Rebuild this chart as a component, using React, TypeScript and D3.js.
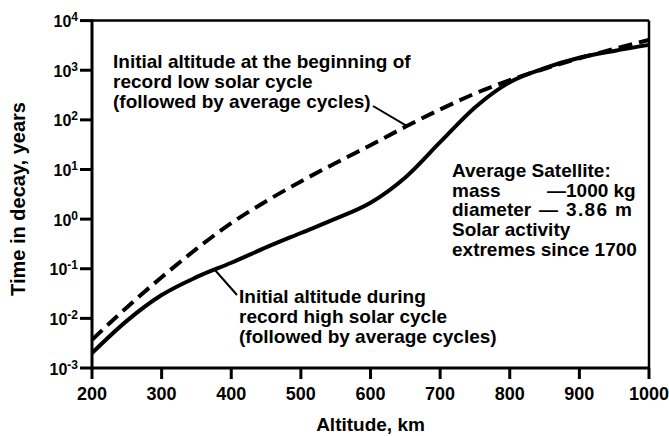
import React from "react";
import * as d3 from "d3";

const altitudes = [200, 250, 300, 350, 400, 450, 500, 550, 600, 650, 700, 750, 800, 850, 900, 950, 1000];
const lowSolarYears = [0.0037, 0.0166, 0.0676, 0.251, 0.832, 2.29, 5.75, 13.5, 30.9, 72.4, 162, 339, 631, 1070, 1740, 2690, 4070];
const highSolarYears = [0.002, 0.0089, 0.0295, 0.0676, 0.132, 0.269, 0.525, 1.02, 2.14, 6.92, 35.5, 178, 575, 1100, 1780, 2450, 3240];
const xTicks = [200, 300, 400, 500, 600, 700, 800, 900, 1000];
const yTickExponents = [4, 3, 2, 1, 0, -1, -2, -3];

const lowLabel = ["Initial altitude at the beginning of", "record low solar cycle", "(followed by average cycles)"];
const highLabel = ["Initial altitude during", "record high solar cycle", "(followed by average cycles)"];
const infoLines = ["Average Satellite:", "mass", "diameter", "Solar activity", "extremes since 1700"];
const infoValues = ["\u20141000 kg", "\u2014 3.86 m"];

const W = 669;
const H = 436;
const M = { left: 92, right: 649, top: 20.6, bottom: 368 };
const FONT = "'Liberation Sans', Arial, Helvetica, sans-serif";

export default function App() {
  const x = d3.scaleLinear().domain([200, 1000]).range([M.left, M.right]);
  const y = d3.scaleLog().domain([1e-3, 1e4]).range([M.bottom, M.top]);

  const line = d3
    .line<number>()
    .x((_, i) => x(altitudes[i]))
    .y((d) => y(d))
    .curve(d3.curveMonotoneX);

  const lowPath = line(lowSolarYears) || "";
  const highPath = line(highSolarYears) || "";

  return (
    <svg
      width={W}
      height={H}
      style={{ position: "absolute", left: 0, top: 0, background: "#fff" }}
      fontFamily={FONT}
      fontWeight="bold"
    >
      <rect x={0} y={0} width={W} height={H} fill="#fff" />
      {/* frame */}
      <line x1={M.left} x2={M.right} y1={M.top} y2={M.top} stroke="#000" strokeWidth={2.5} />
      <line x1={M.right} x2={M.right} y1={M.top} y2={M.bottom} stroke="#000" strokeWidth={2.5} />
      <line x1={M.left} x2={M.right + 1} y1={M.bottom} y2={M.bottom} stroke="#000" strokeWidth={3} />
      <line x1={M.left} x2={M.left} y1={M.top - 1} y2={M.bottom + 1.5} stroke="#000" strokeWidth={3} />

      {/* x ticks */}
      {xTicks.map((t) => (
        <g key={"x" + t}>
          <line x1={x(t)} x2={x(t)} y1={M.bottom} y2={M.bottom + 11} stroke="#000" strokeWidth={3} />
          <text x={x(t)} y={400} textAnchor="middle" fontSize={18}>
            {t}
          </text>
        </g>
      ))}

      {/* y ticks */}
      {yTickExponents.map((e) => {
        const yy = y(Math.pow(10, e));
        return (
          <g key={"y" + e}>
            <line x1={M.left - 12} x2={M.left} y1={yy} y2={yy} stroke="#000" strokeWidth={3} />
            <text x={78} y={yy + 6.5} textAnchor="end" fontSize={16}>
              <tspan>10</tspan>
              <tspan fontSize={12} dy={-6}>
                {e}
              </tspan>
            </text>
          </g>
        );
      })}

      {/* curves */}
      <path d={highPath} fill="none" stroke="#000" strokeWidth={4} strokeLinejoin="round" />
      <path d={lowPath} fill="none" stroke="#000" strokeWidth={4} strokeDasharray="14 7" />

      {/* leader lines */}
      <line x1={373} y1={106} x2={x(652)} y2={y(76)} stroke="#000" strokeWidth={2} />
      <line x1={x(375)} y1={y(0.1)} x2={237} y2={295} stroke="#000" strokeWidth={2} />

      {/* annotations */}
      {lowLabel.map((s, i) => (
        <text key={"l" + i} x={113} y={68 + i * 20} fontSize={19}>
          {s}
        </text>
      ))}
      {highLabel.map((s, i) => (
        <text key={"h" + i} x={239} y={303 + i * 20} fontSize={19}>
          {s}
        </text>
      ))}
      {infoLines.map((s, i) => (
        <text key={"i" + i} x={452} y={177 + i * 19.7} fontSize={19}>
          {s}
        </text>
      ))}
      <text x={547} y={196.7} fontSize={19}>
        {infoValues[0]}
      </text>
      <text x={539} y={216.4} fontSize={19} textLength={93} lengthAdjust="spacing">
        {infoValues[1]}
      </text>

      {/* axis titles */}
      <text x={(M.left + M.right) / 2} y={431} textAnchor="middle" fontSize={19}>
        Altitude, km
      </text>
      <text transform="translate(25,199) rotate(-90)" textAnchor="middle" fontSize={20}>
        Time in decay, years
      </text>
    </svg>
  );
}
